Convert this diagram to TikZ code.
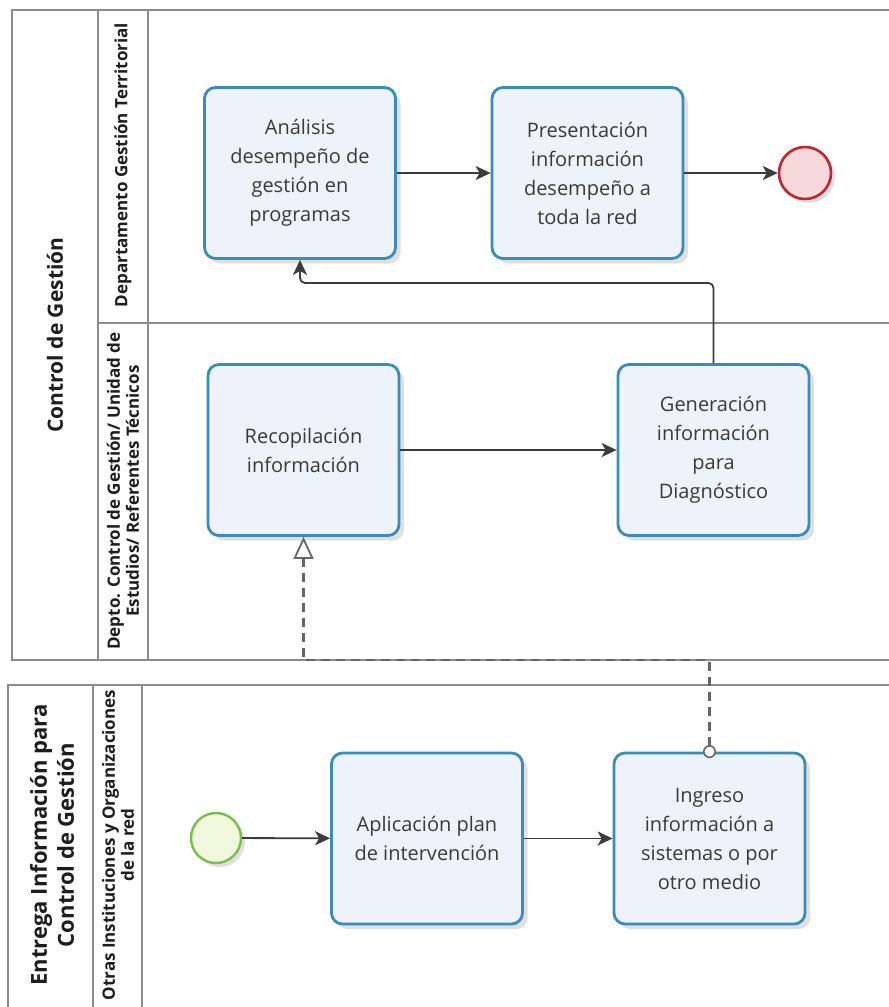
\documentclass[tikz,border=0pt]{standalone}
\usepackage{fontspec}
\setmainfont{Open Sans}
\usetikzlibrary{arrows.meta,shadows,calc}
\definecolor{poolline}{HTML}{8C8C8C}
\definecolor{taskline}{HTML}{3A8CBA}
\definecolor{taskfill}{HTML}{EEF2FB}
\definecolor{endline}{HTML}{C1272D}
\definecolor{endfill}{HTML}{F7D9DC}
\definecolor{startline}{HTML}{79C04A}
\definecolor{startfill}{HTML}{F1F9DC}
\definecolor{flowline}{HTML}{3C3C3C}
\definecolor{msgline}{HTML}{666666}
\definecolor{txt}{HTML}{3A3A3A}
\definecolor{lbl}{HTML}{1E1E1E}
\begin{document}
\begin{tikzpicture}[x=1pt,y=-1pt,
  pool/.style={draw=poolline,line width=1.6pt},
  task/.style={draw=taskline,line width=2.8pt,rounded corners=11pt,fill=taskfill,
    minimum width=191pt,minimum height=171pt,inner sep=0pt,align=center,text=txt,
    font=\fontsize{20}{29}\selectfont,
    drop shadow={shadow xshift=5pt,shadow yshift=-5pt,opacity=0.12,fill=black}},
  endev/.style={circle,draw=endline,line width=2.6pt,fill=endfill,minimum size=52pt,inner sep=0pt,
    drop shadow={shadow xshift=4pt,shadow yshift=-4pt,opacity=0.12,fill=black}},
  startev/.style={circle,draw=startline,line width=2.4pt,fill=startfill,minimum size=50pt,inner sep=0pt,
    drop shadow={shadow xshift=4pt,shadow yshift=-4pt,opacity=0.12,fill=black}},
  flow/.style={draw=flowline,line width=1.8pt,-{Stealth[length=15pt,width=14pt,inset=4pt]}},
  msg/.style={draw=msgline,line width=2.5pt,dash pattern=on 9pt off 6pt,
    {Circle[open,length=13pt,width=13pt,fill=white,line width=1.6pt]}-{Triangle[open,length=22pt,width=20pt,fill=white,line width=1.8pt]}},
  lanelbl/.style={rotate=90,align=center,text=lbl,font=\bfseries\fontsize{17}{19}\selectfont},
  poollbl/.style={rotate=90,align=center,text=lbl,font=\bfseries\fontsize{21}{27}\selectfont}]

\useasboundingbox (0,0) rectangle (889,1007);
\fill[white] (0,0) rectangle (889,1007);
\clip (0,0) rectangle (889,1007);

% pool: Control de Gestión
\draw[pool] (12,10) rectangle (905,660);
\draw[pool] (98,10) -- (98,660);
\draw[pool] (148,10) -- (148,660);
\draw[pool] (98,323) -- (905,323);
\node[poollbl] (p1) at (55,335) {Control de Gestión};
\node[lanelbl] (l1) at (123,165) {Departamento Gestión Territorial};
\node[lanelbl] (l2) at (123,491) {Depto. Control de Gestión/ Unidad de\\Estudios/ Referentes Técnicos};

% pool: Entrega Información
\draw[pool] (8,685) rectangle (905,1030);
\draw[pool] (93,685) -- (93,1030);
\draw[pool] (142,685) -- (142,1030);
\node[poollbl,font=\bfseries\fontsize{22}{27}\selectfont] (p2) at (52,845) {Entrega Información para\\Control de Gestión};
\node[lanelbl] (l3) at (118,845) {Otras Instituciones y Organizaciones\\de la red};

% tasks and events
\node[task] (ana) at (300,173) {Análisis\\desempeño de\\gestión en\\programas};
\node[task] (pre) at (587.5,173) {Presentación\\información\\desempeño a\\toda la red};
\node[endev] (fin) at (805,173) {};
\node[task] (rec) at (303.5,450) {Recopilación\\información};
\node[task] (gen) at (713.5,450) {Generación\\información\\para\\Diagnóstico};
\node[startev] (ini) at (216,838) {};
\node[task] (apl) at (427,838.5) {Aplicación plan\\de intervención};
\node[task] (ing) at (709.5,838.5) {Ingreso\\información a\\sistemas o por\\otro medio};

% sequence flows
\draw[flow] (ana) -- (pre);
\draw[flow] (pre) -- (fin);
\draw[flow] (rec) -- (gen);
\draw[flow] (ini) -- (apl);
\draw[flow] (apl) -- (ing);
\coordinate (fb) at (300,283);
\draw[flow,rounded corners=5pt] (gen.north) |- (fb) -- (ana.south -| fb);

% message flow
\coordinate (mfy) at (0,660);
\draw[msg,shorten <=-6.5pt] (ing.north) |- (rec.south |- mfy) -- (rec.south);
\end{tikzpicture}
\end{document}
